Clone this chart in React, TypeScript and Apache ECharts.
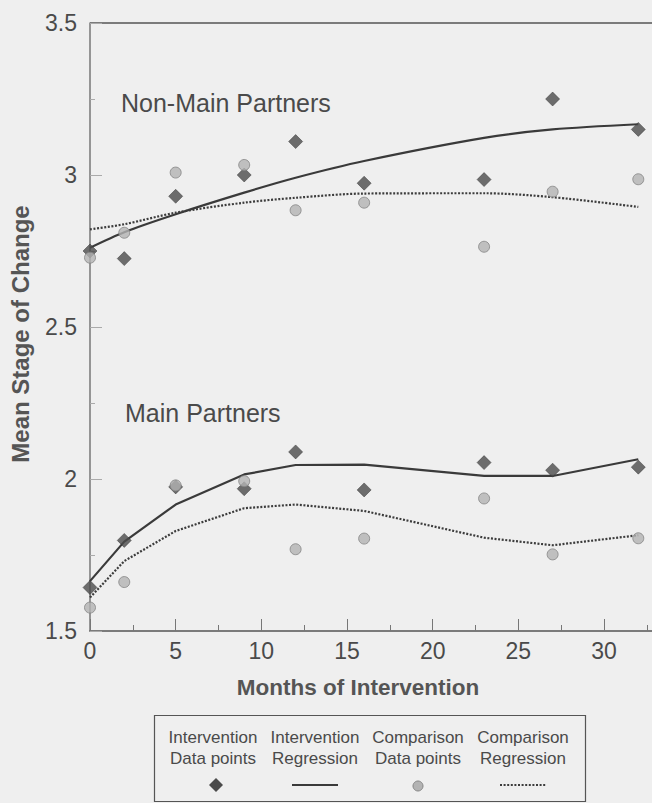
import React, { useEffect, useRef } from "react";
import * as echarts from "echarts";

// Months at which stage of change was measured
const months = [0, 2, 5, 9, 12, 16, 23, 27, 32];

// Non-main partners
const nonMainInterventionPoints = [2.75, 2.725, 2.93, 3.0, 3.11, 2.973, 2.985, 3.25, 3.15];
const nonMainComparisonPoints = [2.728, 2.81, 3.008, 3.033, 2.884, 2.909, 2.764, 2.945, 2.986];
const nonMainInterventionFit = [2.761, 2.812, 2.871, 2.942, 2.991, 3.046, 3.122, 3.15, 3.167];
const nonMainComparisonFit = [2.821, 2.838, 2.876, 2.909, 2.925, 2.939, 2.94, 2.927, 2.895];

// Main partners
const mainInterventionPoints = [1.643, 1.798, 1.974, 1.968, 2.089, 1.964, 2.054, 2.029, 2.039];
const mainComparisonPoints = [1.577, 1.661, 1.979, 1.993, 1.769, 1.804, 1.936, 1.752, 1.805];
const mainInterventionFit = [1.664, 1.794, 1.916, 2.015, 2.046, 2.047, 2.01, 2.01, 2.065];
const mainComparisonFit = [1.61, 1.73, 1.829, 1.904, 1.916, 1.895, 1.807, 1.782, 1.815];

const majorXTicks = [0, 5, 10, 15, 20, 25, 30];
const minorXTicks = [2.5, 7.5, 12.5, 17.5, 22.5, 27.5, 32.5];

const legendHeads = [
  ["Intervention", "Data points"],
  ["Intervention", "Regression"],
  ["Comparison", "Data points"],
  ["Comparison", "Regression"],
];

const FONT = "'Liberation Sans', Arial, Helvetica, sans-serif";
const INK = "#4a4a4a";
const BG = "#efefef";

const pair = (ys: number[]) => months.map((m, i) => [m, ys[i]]);

export default function App() {
  const ref = useRef<HTMLDivElement>(null);

  useEffect(() => {
    if (!ref.current) return;
    const chart = echarts.init(ref.current, null, { renderer: "svg" });

    const fitLine = (data: number[], dotted: boolean, smooth: boolean) => ({
      type: "line",
      data: pair(data),
      showSymbol: false,
      symbol: "none",
      smooth: smooth ? 0.3 : false,
      lineStyle: dotted
        ? { color: "#3c3c3c", width: 2.2, type: [2, 1.6] }
        : { color: "#3a3a3a", width: 2.2, type: "solid" },
      z: 2,
    });

    const diamonds = (data: number[]) => ({
      type: "scatter",
      data: pair(data),
      symbol: "diamond",
      symbolSize: [14, 14],
      itemStyle: { color: "#4b4b4b", borderColor: "#333", borderWidth: 0.6 },
      z: 3,
    });

    const circles = (data: number[]) => ({
      type: "scatter",
      data: pair(data),
      symbol: "circle",
      symbolSize: 11,
      itemStyle: { color: "#b3b3b3", borderColor: "#858585", borderWidth: 1 },
      z: 4,
    });

    const legendX = [213, 315, 418, 523];
    const legendGraphics: any[] = [
      {
        type: "rect",
        shape: { x: 154.5, y: 715.5, width: 431, height: 86 },
        style: { fill: "none", stroke: "#555", lineWidth: 1.2 },
      },
    ];
    legendHeads.forEach((lines, i) => {
      lines.forEach((t, j) => {
        legendGraphics.push({
          type: "text",
          x: legendX[i],
          y: 737 + j * 21.5,
          style: {
            text: t,
            align: "center",
            verticalAlign: "middle",
            font: `17px ${FONT}`,
            fill: INK,
          },
        });
      });
    });
    legendGraphics.push(
      {
        type: "polygon",
        shape: { points: [[216, 778], [223, 785], [216, 792], [209, 785]] },
        style: { fill: "#4b4b4b" },
      },
      {
        type: "line",
        shape: { x1: 292, y1: 785, x2: 338, y2: 785 },
        style: { stroke: "#3a3a3a", lineWidth: 2 },
      },
      {
        type: "circle",
        shape: { cx: 418, cy: 786, r: 5 },
        style: { fill: "#b3b3b3", stroke: "#858585", lineWidth: 1 },
      },
      {
        type: "line",
        shape: { x1: 500, y1: 785, x2: 546, y2: 785 },
        style: { stroke: "#3c3c3c", lineWidth: 1.8, lineDash: [2, 1.6] },
      }
    );

    chart.setOption({
      animation: false,
      backgroundColor: BG,
      grid: { left: 90, right: 0, top: 23, bottom: 172, containLabel: false },
      xAxis: [
        {
          type: "value",
          position: "bottom",
          min: 0,
          max: 32.8,
          interval: 5,
          axisLine: { show: true, lineStyle: { color: "#555", width: 1.5 } },
          axisTick: {
            show: true,
            inside: true,
            length: 12,
            customValues: majorXTicks,
            lineStyle: { color: "#777", width: 1 },
          },
          axisLabel: {
            show: true,
            customValues: majorXTicks,
            margin: 8,
            fontSize: 23,
            fontFamily: FONT,
            color: INK,
          },
          splitLine: { show: false },
        },
        {
          type: "value",
          position: "bottom",
          min: 0,
          max: 32.8,
          axisLine: { show: false },
          axisLabel: { show: false },
          axisTick: {
            show: true,
            inside: true,
            length: 6,
            customValues: minorXTicks,
            lineStyle: { color: "#777", width: 1 },
          },
          splitLine: { show: false },
        },
      ],
      yAxis: {
        type: "value",
        min: 1.5,
        max: 3.5,
        interval: 0.5,
        axisLine: { show: true, lineStyle: { color: "#777", width: 1.5 } },
        axisTick: {
          show: true,
          inside: true,
          length: 12,
          lineStyle: { color: "#aaa", width: 1 },
        },
        minorTick: {
          show: true,
          splitNumber: 2,
          length: 5,
          lineStyle: { color: "#aaa", width: 1 },
        },
        axisLabel: {
          margin: 13,
          fontSize: 23,
          fontFamily: FONT,
          color: INK,
          formatter: (v: number) => String(v),
        },
        splitLine: { show: false },
      },
      series: [
        fitLine(nonMainInterventionFit, false, true),
        fitLine(nonMainComparisonFit, true, true),
        fitLine(mainInterventionFit, false, false),
        fitLine(mainComparisonFit, true, false),
        diamonds(nonMainInterventionPoints),
        diamonds(mainInterventionPoints),
        circles(nonMainComparisonPoints),
        circles(mainComparisonPoints),
      ],
      graphic: [
        {
          type: "line",
          shape: { x1: 90, y1: 23, x2: 652, y2: 23 },
          style: { stroke: "#555", lineWidth: 1.5 },
        },
        {
          type: "text",
          x: 121,
          y: 103,
          style: {
            text: "Non-Main Partners",
            align: "left",
            verticalAlign: "middle",
            font: `25px ${FONT}`,
            fill: INK,
          },
        },
        {
          type: "text",
          x: 125,
          y: 413,
          style: {
            text: "Main Partners",
            align: "left",
            verticalAlign: "middle",
            font: `25px ${FONT}`,
            fill: INK,
          },
        },
        {
          type: "text",
          x: 358,
          y: 687,
          style: {
            text: "Months of Intervention",
            align: "center",
            verticalAlign: "middle",
            font: `bold 22.5px ${FONT}`,
            fill: "#555",
          },
        },
        {
          type: "text",
          x: 20,
          y: 334,
          rotation: Math.PI / 2,
          style: {
            text: "Mean Stage of Change",
            align: "center",
            verticalAlign: "middle",
            font: `bold 24px ${FONT}`,
            fill: "#555",
          },
        },
        ...legendGraphics,
      ],
    });

    return () => chart.dispose();
  }, []);

  return (
    <div
      ref={ref}
      style={{ position: "fixed", left: 0, top: 0, width: 652, height: 803, background: BG }}
    />
  );
}
